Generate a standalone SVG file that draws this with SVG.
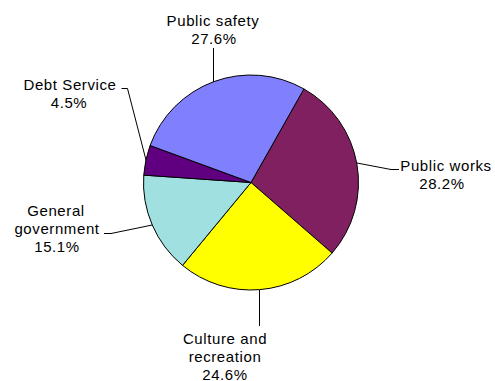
<svg xmlns="http://www.w3.org/2000/svg" width="495" height="381" viewBox="0 0 495 381">
<style>
.s{stroke:#000;stroke-width:1;stroke-linejoin:round}
.l{fill:none;stroke:#000;stroke-width:1}
text{font-family:"Liberation Sans",Arial,sans-serif;font-size:15px;letter-spacing:0.6px;fill:#000;text-anchor:middle}
</style>
<rect width="495" height="381" fill="#fff"/>
<g id="slice-public-works"><path class="s" fill="#802060" d="M251,182.5 L303.93,88.93 A107.5,107.5 0 0,1 332.10,253.06 Z"/></g>
<g id="slice-culture"><path class="s" fill="#FFFF00" d="M251,182.5 L332.10,253.06 A107.5,107.5 0 0,1 182.52,265.37 Z"/></g>
<g id="slice-general-government"><path class="s" fill="#A0E0E0" d="M251,182.5 L182.52,265.37 A107.5,107.5 0 0,1 143.75,175.11 Z"/></g>
<g id="slice-debt-service"><path class="s" fill="#600080" d="M251,182.5 L143.75,175.11 A107.5,107.5 0 0,1 150.08,145.49 Z"/></g>
<g id="slice-public-safety"><path class="s" fill="#8080FF" d="M251,182.5 L150.08,145.49 A107.5,107.5 0 0,1 303.93,88.93 Z"/></g>
<g id="connectors">
<polyline class="l" points="213.5,48 213.5,82"/>
<polyline class="l" points="357,163 391,169.5 399,169.5"/>
<polyline class="l" points="259.5,290 259.5,326"/>
<polyline class="l" points="104,233.5 111,233.5 152.3,225"/>
<polyline class="l" points="121.5,88.5 127.5,88.5 146,160"/>
</g>
<g id="label-public-safety"><text x="213" y="26">Public safety</text><text x="214" y="44">27.6%</text></g>
<g id="label-public-works"><text x="446" y="170.5">Public works</text><text x="442" y="189">28.2%</text></g>
<g id="label-culture"><text x="225" y="343.5">Culture and</text><text x="225" y="361.5">recreation</text><text x="225" y="379.5">24.6%</text></g>
<g id="label-general-government"><text x="56" y="215.5">General</text><text x="57" y="233.5">government</text><text x="57" y="251.5">15.1%</text></g>
<g id="label-debt-service"><text x="70" y="90">Debt Service</text><text x="69" y="107.5">4.5%</text></g>
</svg>
